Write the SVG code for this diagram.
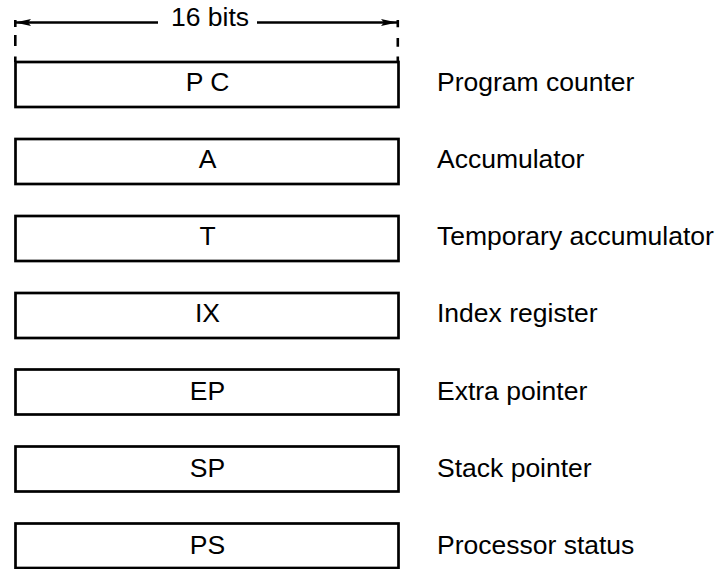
<svg xmlns="http://www.w3.org/2000/svg" width="721" height="569" viewBox="0 0 721 569">
<style>
.box{fill:#fff;stroke:#000;stroke-width:2.7}
.t{font-family:"Liberation Sans",Arial,sans-serif;font-size:26.5px;fill:#000}
.c{text-anchor:middle}
.ln{stroke:#000;stroke-width:2.6;fill:none}
</style>
<defs>
<marker id="ah" viewBox="0 0 16 8" refX="16" refY="4" markerWidth="16" markerHeight="8" markerUnits="userSpaceOnUse" orient="auto-start-reverse">
<path d="M16,4 L0,0.5 L3,4 L0,7.5 Z" fill="#000"/>
</marker>
</defs>
<g id="connectors">
<line class="ln" x1="158" y1="22.5" x2="15" y2="22.5" marker-end="url(#ah)"/>
<line class="ln" x1="257" y1="22.5" x2="397" y2="22.5" marker-end="url(#ah)"/>
<path class="ln" d="M15.3,20 V27 M15.3,35 V46 M15.3,56.5 V62"/>
<path class="ln" d="M397.8,20 V27.3 M397.8,38 V46.7 M397.8,56.5 V62"/>
<text class="t c" x="210" y="25.7">16 bits</text>
</g>
<g id="pc"><rect class="box" x="15.5" y="62" width="383" height="45"/><text class="t c" x="207.5" y="91">P C</text><text class="t" x="437" y="91">Program counter</text></g>
<g id="a"><rect class="box" x="15.5" y="139" width="383" height="45"/><text class="t c" x="207.5" y="168">A</text><text class="t" x="437" y="168">Accumulator</text></g>
<g id="t"><rect class="box" x="15.5" y="216" width="383" height="45"/><text class="t c" x="207.5" y="245">T</text><text class="t" x="437" y="245">Temporary accumulator</text></g>
<g id="ix"><rect class="box" x="15.5" y="293" width="383" height="45"/><text class="t c" x="207.5" y="322">IX</text><text class="t" x="437" y="322">Index register</text></g>
<g id="ep"><rect class="box" x="15.5" y="369.5" width="383" height="45"/><text class="t c" x="207.5" y="400">EP</text><text class="t" x="437" y="400">Extra pointer</text></g>
<g id="sp"><rect class="box" x="15.5" y="446.5" width="383" height="45"/><text class="t c" x="207.5" y="476.5">SP</text><text class="t" x="437" y="476.5">Stack pointer</text></g>
<g id="ps"><rect class="box" x="15.5" y="523.5" width="383" height="44.5"/><text class="t c" x="207.5" y="553.5">PS</text><text class="t" x="437" y="553.5">Processor status</text></g>
</svg>
